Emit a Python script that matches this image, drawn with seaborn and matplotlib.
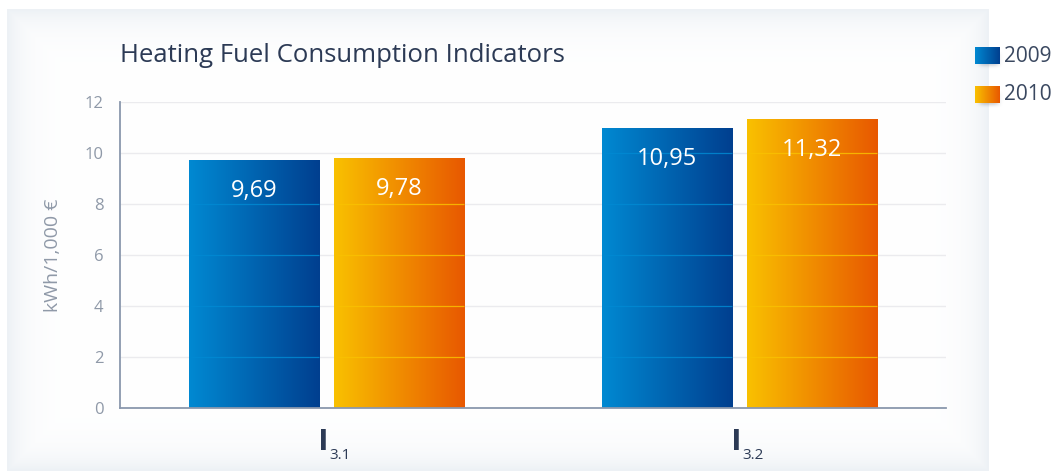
import numpy as np
import pandas as pd
import matplotlib
matplotlib.use("Agg")
import matplotlib.pyplot as plt
import matplotlib.transforms as mtransforms
import seaborn as sns

# --- data -------------------------------------------------------------
indicators = ["I3.1", "I3.2"]
indicator_subscripts = ["3.1", "3.2"]
years = ["2009", "2010"]
values_2009 = [9.69, 10.95]
values_2010 = [9.78, 11.32]
y_ticks = [0, 2, 4, 6, 8, 10, 12]

title = "Heating Fuel Consumption Indicators"
y_label = "kWh/1,000 €"

# --- style ------------------------------------------------------------
sns.set_theme(style="white")
FONT = ["Open Sans", "Lato", "DejaVu Sans"]
plt.rcParams["font.family"] = FONT

blue_grad = ("#0089d2", "#003f8f")
orange_grad = ("#f9c100", "#e85800")
gradients = [blue_grad, orange_grad]
navy = "#2c3a55"
tick_grey = "#8f99a8"
axis_grey = "#8a98ad"
grid_grey = "#ebebee"

W, H, DPI = 1060, 475, 100
fig = plt.figure(figsize=(W / DPI, H / DPI), dpi=DPI)

# soft-edged card behind the chart
bg = fig.add_axes([0, 0, 1, 1], zorder=-10)
yy, xx = np.mgrid[0:H, 0:W]
cx0, cx1, cy0, cy1 = 7, 988, 9, 470
inside = (xx >= cx0) & (xx <= cx1) & (yy >= cy0) & (yy <= cy1)
d = np.minimum.reduce([xx - cx0, cx1 - xx, yy - cy0, cy1 - yy]).astype(float)
edge = np.array(matplotlib.colors.to_rgb("#edf1f5"))
t = np.exp(-np.clip(d, 0, None) / 18.0)
img = np.ones((H, W, 3))
img[inside] = (1 - t[inside])[:, None] * 1.0 + t[inside][:, None] * edge
bg.imshow(img, extent=[0, W, H, 0], aspect="auto", interpolation="bilinear")
bg.set_xlim(0, W)
bg.set_ylim(H, 0)
bg.axis("off")

ax = fig.add_axes([120 / W, 1 - 408 / H, (946 - 120) / W, (408 - 102) / H])
ax.set_facecolor("none")

df = pd.DataFrame({
    "indicator": indicators * 2,
    "year": [years[0]] * 2 + [years[1]] * 2,
    "value": values_2009 + values_2010,
})

sns.barplot(data=df, x="indicator", y="value", hue="year",
            palette=[blue_grad[0], orange_grad[0]], width=0.702, gap=0.1,
            ax=ax, legend=False, errorbar=None, zorder=2)


def hgrad(c0, c1, n=256):
    a = np.array(matplotlib.colors.to_rgb(c0))
    b = np.array(matplotlib.colors.to_rgb(c1))
    s = np.linspace(0, 1, n)[None, :, None]
    return a + (b - a) * s


# gradient bars, grid lines tinted inside bars, value labels
for container, (c0, c1) in zip(ax.containers, gradients):
    for bar in container:
        x0, w, h = bar.get_x(), bar.get_width(), bar.get_height()
        bar.set_visible(False)
        ax.imshow(hgrad(c0, c1), extent=[x0, x0 + w, 0, h], aspect="auto",
                  interpolation="bilinear", zorder=2)
        for yt in y_ticks:
            if 0 < yt < h:
                ax.hlines(yt, x0, x0 + w, colors=c0, lw=0.9, alpha=0.85, zorder=3)
        ax.annotate(f"{h:.2f}".replace(".", ","), (x0 + w / 2, h),
                    xytext=(0, -22), textcoords="offset points",
                    ha="center", va="center", color="white",
                    fontsize=17, zorder=4)

ax.set_ylim(0, 12)
ax.set_xlim(-0.5, len(indicators) - 0.5)

# axes, ticks, grid
ax.set_yticks(y_ticks)
ax.set_yticklabels([str(v) for v in y_ticks], color=tick_grey, fontsize=12)
ax.yaxis.grid(True, color=grid_grey, lw=1, zorder=0)
ax.set_axisbelow(True)
ax.tick_params(axis="y", direction="in", length=11, width=1.2,
               color=axis_grey, pad=12)
ax.set_xticks([i - 0.5 for i in range(len(indicators) + 1)])
ax.set_xticklabels([])
ax.tick_params(axis="x", direction="in", length=7, width=1.5, color=axis_grey)
for side in ("top", "right"):
    ax.spines[side].set_visible(False)
for side in ("left", "bottom"):
    ax.spines[side].set_color(axis_grey)
    ax.spines[side].set_linewidth(1.3)
ax.set_xlabel("")
ax.set_ylabel(y_label, color=tick_grey, fontsize=14, labelpad=16)

# category labels: bold "I" with numeric subscript
trans = mtransforms.blended_transform_factory(ax.transData, ax.transAxes)
for i, sub in enumerate(indicator_subscripts):
    ax.text(i, -0.07, "I", family=["Lato", "DejaVu Sans"],
            transform=trans + mtransforms.ScaledTranslation(1 / 72, 0, fig.dpi_scale_trans),
            ha="right", va="top", fontsize=20, fontweight="heavy", color=navy)
    ax.text(i, -0.13, sub,
            transform=trans + mtransforms.ScaledTranslation(2 / 72, 0, fig.dpi_scale_trans),
            ha="left", va="top", fontsize=11, color=navy)

# title
fig.text(120 / W, 1 - 55 / H, title, ha="left", va="center", fontsize=18.5,
         color=navy)

# legend swatches with gradient fill and soft drop shadow
sy, sx = np.mgrid[-1:1:40j, -1:1:50j]
shadow = np.zeros((40, 50, 4))
shadow[..., :3] = [0.35, 0.38, 0.44]
shadow[..., 3] = 0.35 * np.exp(-((sx / 0.6) ** 4 + (sy / 0.5) ** 4))
for k, (yr, (c0, c1)) in enumerate(zip(years, gradients)):
    top = 47 + k * 39
    sh = fig.add_axes([972 / W, 1 - (top + 26) / H, 33 / W, 26 / H], zorder=1)
    sh.imshow(shadow, aspect="auto", interpolation="bilinear")
    sh.axis("off")
    sw = fig.add_axes([975 / W, 1 - (top + 17) / H, 25 / W, 17 / H], zorder=2)
    sw.imshow(hgrad(c0, c1), aspect="auto", extent=[0, 1, 0, 1])
    sw.axis("off")
    fig.text(1004 / W, 1 - (top + 9) / H, yr, ha="left", va="center",
             fontsize=15, color="#3a4860")

fig.savefig("out.png", dpi=DPI)
